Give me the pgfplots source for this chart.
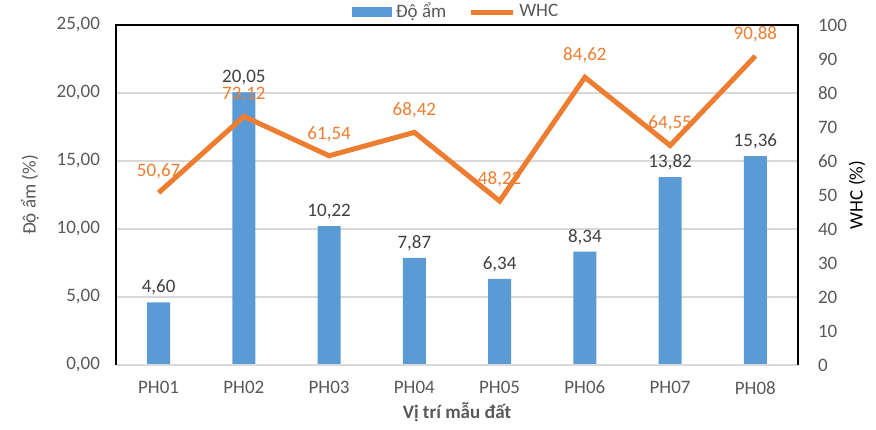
\documentclass[border=0pt]{standalone}
\usepackage{pgfplots}
\pgfplotsset{compat=1.18}
\usepackage{fontspec}
\setmainfont{Carlito}
\definecolor{barblue}{HTML}{5B9BD5}
\definecolor{lineorange}{HTML}{ED7D31}
\definecolor{txtgray}{HTML}{595959}
\definecolor{lblgray}{HTML}{404040}
\definecolor{gridgray}{HTML}{D9D9D9}
\pgfkeys{/pgf/number format/commafmt/.style={/pgf/number format/fixed, /pgf/number format/fixed zerofill,
  /pgf/number format/precision=2, /pgf/number format/use comma}}
\pgfplotsset{
  /pgf/number format/assume math mode=true,
  every axis/.append style={font=\fontsize{9.5}{11}\selectfont},
}
\begin{document}
\begin{tikzpicture}
\path[use as bounding box] (-58pt,-32pt) rectangle (380pt,182.5pt);
\begin{axis}[
  at={(0,0)}, anchor=south west,
  scale only axis, width=341pt, height=170pt,
  clip=false,
  xmin=-0.5, xmax=7.5, ymin=0, ymax=25,
  xtick={0,...,7}, xticklabels={PH01,PH02,PH03,PH04,PH05,PH06,PH07,PH08},
  ytick={0,5,...,25},
  axis line style={draw=none}, major tick length=0pt,
  ymajorgrids, grid style={gridgray, line width=0.75pt},
  yticklabel style={txtgray, xshift=-4.5pt, /pgf/number format/commafmt},
  xticklabel style={txtgray, yshift=-4.5pt},
  ylabel={Độ ẩm (\%)}, xlabel={Vị trí mẫu đất},
  every axis y label/.style={at={(rel axis cs:0,0.5)}, xshift=-43pt, rotate=90, anchor=center, txtgray},
  every axis x label/.style={at={(rel axis cs:0.5,0)}, yshift=-23.5pt, anchor=center, txtgray, font=\fontsize{9.5}{11}\selectfont\bfseries},
  ybar, bar width=11.5pt,
  nodes near coords={\pgfmathprintnumber[commafmt]{\pgfplotspointmeta}},
  nodes near coords style={lblgray},
  legend style={at={(rel axis cs:0.5,1)}, anchor=center, yshift=6.5pt, draw=none, fill=none,
    text=txtgray, legend columns=-1, /tikz/every even column/.append style={column sep=9pt}},
]
\addplot[draw=none, fill=barblue,
  legend image code/.code={\fill[barblue] (0pt,-2.5pt) rectangle (20pt,2.5pt);}]
  coordinates {(0,4.60) (1,20.05) (2,10.22) (3,7.87) (4,6.34) (5,8.34) (6,13.82) (7,15.36)};
\addlegendentry{Độ ẩm}
\addlegendimage{legend image code/.code={\draw[lineorange, line width=2.5pt] (0pt,0pt) -- (21pt,0pt);}}
\addlegendentry{WHC}
\draw[gridgray, line width=1pt] (rel axis cs:0,0) -- (rel axis cs:1,0);
\draw[black, line width=1pt] (rel axis cs:0,0) -- (rel axis cs:0,1) -- (rel axis cs:1,1) -- (rel axis cs:1,0);
\end{axis}
\begin{axis}[
  at={(0,0)}, anchor=south west,
  scale only axis, width=341pt, height=170pt,
  clip=false,
  xmin=-0.5, xmax=7.5, ymin=0, ymax=100,
  hide x axis, axis y line*=right,
  y axis line style={draw=none}, major tick length=0pt,
  ytick={0,10,...,100},
  yticklabel style={txtgray, xshift=6.5pt},
  ylabel={WHC (\%)},
  every axis y label/.style={at={(rel axis cs:1,0.5)}, xshift=29.5pt, rotate=90, anchor=center, black},
]
\addplot[lineorange, line width=2.5pt, mark=none,
  nodes near coords={\pgfmathprintnumber[commafmt]{\pgfplotspointmeta}},
  nodes near coords style={lineorange, yshift=2.5pt}]
  coordinates {(0,50.67) (1,73.12) (2,61.54) (3,68.42) (4,48.22) (5,84.62) (6,64.55) (7,90.88)};
\end{axis}
\end{tikzpicture}
\end{document}
